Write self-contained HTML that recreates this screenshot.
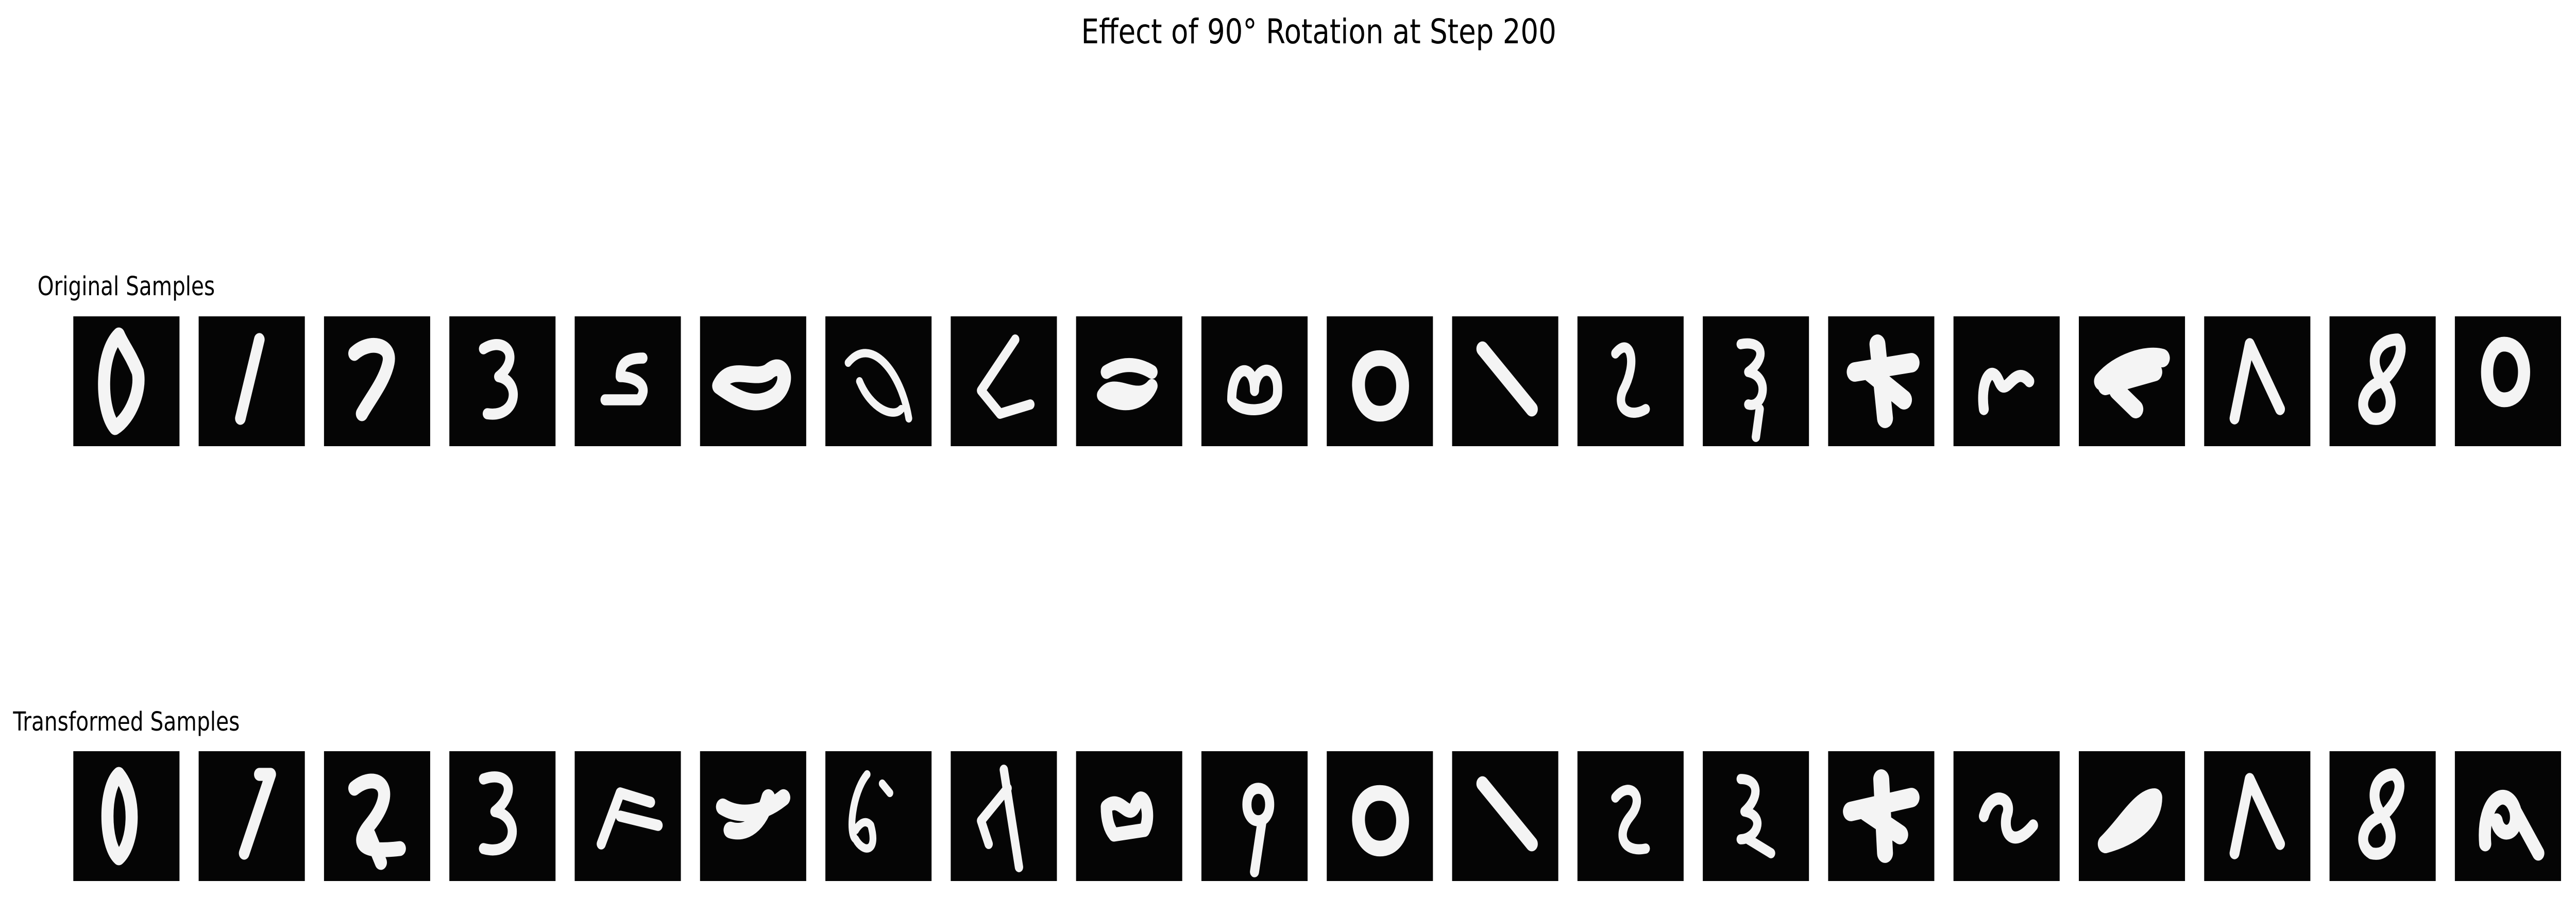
<!DOCTYPE html>
<html><head><meta charset="utf-8"><style>
html,body{margin:0;padding:0;background:#fff;overflow:hidden;width:100vw;height:100vh;}
svg{display:block;width:100vw;height:100vh;}
text{font-family:"DejaVu Sans","Liberation Sans",sans-serif;fill:#000;}
</style></head><body>
<svg id="fig" viewBox="0 0 6114 1741" preserveAspectRatio="none" xmlns="http://www.w3.org/2000/svg">
<rect width="6114" height="1741" fill="#fff"/>
<text x="3130" y="84" font-size="66" text-anchor="middle" textLength="1128" lengthAdjust="spacingAndGlyphs">Effect of 90° Rotation at Step 200</text>
<text x="89" y="573" font-size="51" textLength="421" lengthAdjust="spacingAndGlyphs">Original Samples</text>
<text x="31" y="1418" font-size="51" textLength="538" lengthAdjust="spacingAndGlyphs">Transformed Samples</text>
<g id="tiles"></g>
</svg>
<script>
const sampleIndex = [0,1,2,3,4,5,6,7,8,9,10,11,12,13,14,15,16,17,18,19];
const originalStrokes = [
 "M12,4 C7,8 7,20 11,24 C15,22 18,16 17,12 C15,8 13,6 12,4",
 "M16,5 L11,22",
 "M8,8 C12,5 18,6 17,10 C16,14 12,18 10,21",
 "M9,7 C15,4 19,9 13,13 C19,14 18,22 10,21",
 "M18,9 C14,9 12,10 12,13 C16,13 20,15 17,18 L8,18",
 "M5,15 C8,10 14,14 18,12 C22,9 24,14 20,17 C15,20 10,18 5,15",
 "M6,10 C12,4 20,12 22,22 M9,14 C12,20 18,22 20,20",
 "M17,5 L8,16 L13,21 L21,19",
 "M8,12 C12,10 16,10 20,12 M7,17 C10,13 16,19 20,15 C18,19 12,20 7,17",
 "M8,18 C8,10 14,10 14,16 C14,10 21,10 20,17 C19,21 10,21 8,18",
 "M14,9 C22,9 22,21 14,21 C7,21 6,9 14,9",
 "M8,7 L21,20",
 "M10,8 C14,4 16,10 12,16 C10,20 14,22 18,20",
 "M10,6 C16,5 17,9 12,12 C18,13 16,20 12,19 M15,20 L14,26",
 "M7,12 L22,10 M13,6 L15,22 M11,12 L20,18",
 "M8,20 C7,14 10,10 12,14 C14,18 16,10 20,14",
 "M6,14 C10,10 18,8 22,9 M10,16 L15,20 M7,15 L20,12",
 "M8,22 L12,6 L20,20",
 "M18,5 C12,5 10,10 14,14 C18,18 16,23 11,22 C7,20 9,15 14,14 C18,11 20,7 18,5",
 "M13,6 C20,6 20,18 13,18 C7,18 7,6 13,6"
];
const transformedStrokes = [
 "M12,5 C8,8 8,20 12,23 C16,20 17,10 12,5",
 "M16,5 L19,5 L12,22",
 "M8,8 C14,4 20,8 12,16 C8,20 10,22 20,21 M12,18 L15,24",
 "M9,6 C16,4 18,9 12,13 C19,14 18,23 9,21",
 "M7,20 L12,9 L20,11 M12,14 L22,16",
 "M6,12 C10,14 16,14 22,10 M18,10 C16,16 12,18 8,17",
 "M11,5 C7,9 6,18 8,19 C10,22 14,22 12,16 C10,14 8,17 8,17 M15,7 L17,9",
 "M14,4 L18,25 M15,8 L8,15 L10,20",
 "M8,12 C12,9 14,16 16,11 C18,8 20,14 18,17 L10,18 C8,16 8,13 8,12",
 "M15,8 C11,8 11,15 15,15 C19,15 19,8 15,8 M16,15 L14,26",
 "M14,9 C22,9 22,21 14,21 C7,21 6,9 14,9",
 "M8,7 L21,20",
 "M10,10 C14,6 18,10 14,14 C10,18 12,22 18,21",
 "M10,6 C15,6 15,10 11,13 C17,14 14,19 10,19 M12,19 L18,22",
 "M6,13 L22,10 M14,6 L15,22 M10,13 L19,18",
 "M8,14 C10,8 16,10 14,14 C13,18 16,21 21,16",
 "M7,20 C12,16 16,10 20,10 C20,14 16,18 7,20",
 "M8,22 L12,6 L20,20",
 "M17,5 C12,5 10,10 14,14 C18,18 16,23 11,22 C7,20 9,15 14,14 C18,11 20,7 17,5",
 "M8,20 C7,10 14,7 16,13 C17,18 12,19 11,15 M16,13 L22,22"
];
const thickness = [3.2,2.8,3.2,2.4,2.4,3.6,1.8,2.2,3,2.4,3.4,3.2,2.2,2.2,4.2,2.6,4,2.6,2.6,3.2];

const tilesG = document.getElementById('tiles');
const NS = "http://www.w3.org/2000/svg";
const X0 = 174, STEP = 297.5, SIZE = 252;
const rows = [{y:614, strokes:originalStrokes, name:'original'},{y:1458, strokes:transformedStrokes, name:'transformed'}];
rows.forEach(function(row){
  sampleIndex.forEach(function(i){
    const g = document.createElementNS(NS,'g');
    
    
    const x = X0 + i*STEP;
    g.setAttribute('transform','translate('+x+','+row.y+') scale('+(SIZE/28)+')');
    const r = document.createElementNS(NS,'rect');
    
    
    r.setAttribute('width','28'); r.setAttribute('height','28'); r.setAttribute('fill','#050505');
    g.appendChild(r);
    const p = document.createElementNS(NS,'path');
    
    
    p.setAttribute('d', row.strokes[i]);
    p.setAttribute('fill','none'); p.setAttribute('stroke','#f4f4f4');
    p.setAttribute('stroke-width', thickness[i]);
    p.setAttribute('stroke-linecap','round'); p.setAttribute('stroke-linejoin','round');
    g.appendChild(p);
    tilesG.appendChild(g);
  });
});
</script>
</body></html>
